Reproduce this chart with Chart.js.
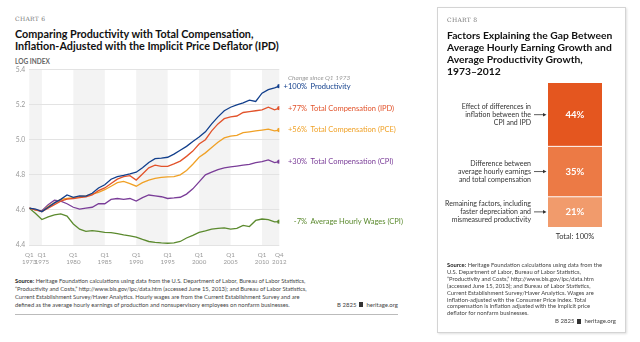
<!DOCTYPE html>
<html>
<head>
<meta charset="utf-8">
<script src="https://cdn.jsdelivr.net/npm/chart.js@4.4.1/dist/chart.umd.min.js"></script>
<style>
  body { margin: 0; width: 640px; height: 342px; background: #fff; position: relative; overflow: hidden; font-family: Lato, "Open Sans", sans-serif; color: #222; }
  .t { position: absolute; white-space: nowrap; }
  .kicker { font-family: "DejaVu Serif", serif; font-size: 6px; color: #777; letter-spacing: 0.3px; line-height: 8px; }
  .title { font-weight: 700; color: #111; }
  .src { font-size: 5.8px; color: #444; }
  .src b { color: #222; }
  .brand { font-size: 6px; color: #444; line-height: 8px; }
  .brand i { display: inline-block; width: 4px; height: 5px; background: #333; margin: 0 3px; vertical-align: -0.5px; }
  #card { position: absolute; left: 437px; top: 7px; width: 187px; height: 324px; border: 1px solid #d4d4d4; box-shadow: 1px 1px 2px rgba(0,0,0,0.12); }
  canvas { position: absolute; }
</style>
</head>
<body>

<div class="t kicker" style="left:15px;top:15px">CHART 6</div>
<div class="t title" style="left:15px;top:28px;font-size:10.8px;line-height:11.5px">Comparing Productivity with Total Compensation,<br>Inflation-Adjusted with the Implicit Price Deflator (IPD)</div>
<div class="t" style="left:15px;top:57.5px;font-size:6.5px;line-height:7px;font-weight:700;color:#666">LOG INDEX</div>

<canvas id="lines" width="440" height="215" style="left:0;top:60px"></canvas>

<div class="t src" style="left:15px;top:276.5px;line-height:8px"><b>Source:</b> Heritage Foundation calculations using data from the U.S. Department of Labor, Bureau of Labor Statistics,<br>“Productivity and Costs,” http://www.bls.gov/lpc/data.htm (accessed June 15, 2013); and Bureau of Labor Statistics,<br>Current Establishment Survey/Haver Analytics. Hourly wages are from the Current Establishment Survey and are<br>defined as the average hourly earnings of production and nonsupervisory employees on nonfarm businesses.</div>
<div class="t brand" style="right:242px;top:300.5px">B 2825<i></i>heritage.org</div>
<div style="position:absolute;left:15px;top:314px;width:383px;height:1px;background:#bbb"></div>

<div id="card"></div>
<div class="t kicker" style="left:447px;top:16px">CHART 8</div>
<div class="t title" style="left:447px;top:29px;font-size:10.3px;line-height:12px">Factors Explaining the Gap Between<br>Average Hourly Earning Growth and<br>Average Productivity Growth,<br>1973–2012</div>

<canvas id="gap" width="190" height="165" style="left:440px;top:78px"></canvas>

<div class="t src" style="left:447px;top:262px;line-height:6.9px"><b>Source:</b> Heritage Foundation calculations using data from the<br>U.S. Department of Labor, Bureau of Labor Statistics,<br>“Productivity and Costs,” http://www.bls.gov/lpc/data.htm<br>(accessed June 15, 2013); and Bureau of Labor Statistics,<br>Current Establishment Survey/Haver Analytics. Wages are<br>inflation-adjusted with the Consumer Price Index. Total<br>compensation is inflation adjusted with the implicit price<br>deflator for nonfarm businesses.</div>
<div class="t brand" style="right:24px;top:317px">B 2825<i></i>heritage.org</div>

<script>
// quarters shown as fractional years: Q1 1973 ... Q4 2012
var years = [1973, 1974, 1975, 1976, 1977, 1978, 1979, 1980, 1981, 1982,
             1983, 1984, 1985, 1986, 1987, 1988, 1989, 1990, 1991, 1992,
             1993, 1994, 1995, 1996, 1997, 1998, 1999, 2000, 2001, 2002,
             2003, 2004, 2005, 2006, 2007, 2008, 2009, 2010, 2011, 2012, 2012.75];

var productivity = [4.61, 4.605, 4.59, 4.615, 4.64, 4.66, 4.685, 4.672, 4.68, 4.678,
                    4.695, 4.725, 4.743, 4.775, 4.79, 4.797, 4.805, 4.815, 4.84, 4.87,
                    4.892, 4.895, 4.90, 4.918, 4.94, 4.962, 4.99, 5.015, 5.045, 5.09,
                    5.13, 5.165, 5.185, 5.198, 5.21, 5.225, 5.218, 5.265, 5.285, 5.295, 5.305];
var compIPD = [4.61, 4.60, 4.59, 4.61, 4.63, 4.65, 4.662, 4.665, 4.67, 4.675,
               4.685, 4.71, 4.725, 4.75, 4.775, 4.79, 4.795, 4.77, 4.805, 4.84,
               4.855, 4.848, 4.848, 4.862, 4.878, 4.905, 4.935, 4.975, 5.0, 5.05,
               5.09, 5.12, 5.13, 5.135, 5.155, 5.16, 5.165, 5.17, 5.185, 5.17, 5.18];
var compPCE = [4.61, 4.60, 4.59, 4.62, 4.64, 4.66, 4.665, 4.67, 4.675, 4.68,
               4.69, 4.70, 4.715, 4.735, 4.755, 4.762, 4.75, 4.735, 4.755, 4.77,
               4.78, 4.785, 4.788, 4.79, 4.80, 4.825, 4.86, 4.90, 4.925, 4.955,
               4.985, 5.01, 5.02, 5.025, 5.04, 5.045, 5.05, 5.055, 5.06, 5.05, 5.055];
var compCPI = [4.61, 4.60, 4.595, 4.63, 4.655, 4.65, 4.635, 4.615, 4.605, 4.61,
               4.615, 4.635, 4.635, 4.66, 4.665, 4.66, 4.665, 4.65, 4.67, 4.685,
               4.68, 4.675, 4.665, 4.668, 4.672, 4.69, 4.72, 4.76, 4.80, 4.815,
               4.83, 4.84, 4.845, 4.85, 4.855, 4.86, 4.87, 4.875, 4.885, 4.87, 4.875];
var wagesCPI = [4.61, 4.58, 4.545, 4.56, 4.572, 4.577, 4.565, 4.52, 4.49, 4.478,
                4.482, 4.478, 4.472, 4.47, 4.465, 4.458, 4.452, 4.445, 4.432, 4.42,
                4.415, 4.412, 4.41, 4.412, 4.42, 4.44, 4.455, 4.472, 4.48, 4.49,
                4.495, 4.498, 4.49, 4.495, 4.512, 4.505, 4.54, 4.548, 4.545, 4.532, 4.533];

var seriesNames = ['Productivity', 'Total Compensation (IPD)', 'Total Compensation (PCE)',
                   'Total Compensation (CPI)', 'Average Hourly Wages (CPI)'];
var seriesChange = ['+100%', '+77%', '+56%', '+30%', '-7%'];
var seriesColors = ['#123f8c', '#e2532b', '#f0a126', '#7a3d98', '#5b8a2e'];

var yTicks = [4.4, 4.6, 4.8, 5.0, 5.2, 5.4];
var xTickYears = [1973, 1975, 1980, 1985, 1990, 1995, 2000, 2005, 2010, 2012.75];
var xTickLabels = [['Q1', '1973'], ['Q1', '1975'], ['Q1', '1980'], ['Q1', '1985'], ['Q1', '1990'],
                   ['Q1', '1995'], ['Q1', '2000'], ['Q1', '2005'], ['Q1', '2010'], ['Q4', '2012']];
var bandRanges = [[1973, 1975], [1980, 1985], [1990, 1995], [2000, 2005], [2010, 2012.75]];

// chart 8
var gapFactors = [['Effect of differences in', 'inflation between the', 'CPI and IPD'],
                  ['Difference between', 'average hourly earnings', 'and total compensation'],
                  ['Remaining factors, including', 'faster depreciation and', 'mismeasured productivity']];
var gapShares = [44, 35, 21];
var gapColors = ['#e4561f', '#ec7a45', '#f19b6c'];

var allSeries = [productivity, compIPD, compPCE, compCPI, wagesCPI];

// grey vertical bands behind the lines
var bands = {
    id: 'bands',
    beforeDraw: function(chart) {
        var ctx = chart.ctx, a = chart.chartArea, x = chart.scales.x;
        ctx.save();
        ctx.fillStyle = '#f3f3f3';
        bandRanges.forEach(function(r) {
            var x0 = x.getPixelForValue(r[0]), x1 = x.getPixelForValue(r[1]);
            ctx.fillRect(x0, a.top, x1 - x0, a.bottom - a.top);
        });
        ctx.restore();
    }
};

// labels at the end of each line
var endLabels = {
    id: 'endLabels',
    afterDraw: function(chart) {
        var ctx = chart.ctx, y = chart.scales.y;
        ctx.save();
        ctx.textBaseline = 'middle';
        ctx.font = 'italic 6.5px Lato';
        ctx.fillStyle = '#999';
        ctx.textAlign = 'left';
        ctx.fillText('Change since Q1 1973', 288, 17.5);
        ctx.font = '7.5px Lato';
        allSeries.forEach(function(s, i) {
            var py = y.getPixelForValue(s[s.length - 1]);
            ctx.fillStyle = seriesColors[i];
            ctx.textAlign = 'right';
            ctx.fillText(seriesChange[i], 307, py);
            ctx.textAlign = 'left';
            ctx.fillText(seriesNames[i], 310.5, py);
        });
        ctx.restore();
    }
};

var linesChart = new Chart(document.getElementById('lines'), {
    type: 'line',
    data: {
        datasets: allSeries.map(function(s, i) {
            return {
                label: seriesNames[i],
                data: years.map(function(yr, k) { return { x: yr, y: s[k] }; }),
                borderColor: seriesColors[i],
                backgroundColor: seriesColors[i],
                borderWidth: 1.3,
                tension: 0,
                pointRadius: function(c) { return c.dataIndex === years.length - 1 ? 2.2 : 0; },
                pointBorderWidth: 0
            };
        })
    },
    options: {
        responsive: false,
        animation: false,
        layout: { padding: { top: 9.5, right: 160.7, left: 0, bottom: 0 } },
        plugins: { legend: { display: false }, tooltip: { enabled: false } },
        scales: {
            x: {
                type: 'linear',
                min: 1973,
                max: 2012.75,
                afterBuildTicks: function(axis) { axis.ticks = xTickYears.map(function(v) { return { value: v }; }); },
                afterFit: function(axis) { axis.height = 30; },
                grid: { display: false, drawTicks: false },
                border: { display: false },
                ticks: {
                    autoSkip: false, maxRotation: 0, padding: 7,
                    color: '#999', font: { family: 'Lato', size: 6.2, lineHeight: 1.05 },
                    callback: function(v, i) { return xTickLabels[i]; }
                }
            },
            y: {
                min: 4.4,
                max: 5.4,
                afterBuildTicks: function(axis) { axis.ticks = yTicks.map(function(v) { return { value: v }; }); },
                afterFit: function(axis) { axis.width = 29.3; },
                grid: { color: '#e3e3e3', drawTicks: false },
                border: { display: false },
                ticks: {
                    padding: 4, color: '#999', font: { family: 'Lato', size: 6.8 },
                    callback: function(v) { return v.toFixed(1); }
                }
            }
        }
    },
    plugins: [bands, endLabels]
});

// percent, side labels with arrows and total for the stacked column
var gapLabels = {
    id: 'gapLabels',
    afterDraw: function(chart) {
        var ctx = chart.ctx, barBottom = 0, barX = 0;
        ctx.save();
        ctx.textBaseline = 'middle';
        chart.data.datasets.forEach(function(ds, i) {
            var bar = chart.getDatasetMeta(i).data[0];
            var top = Math.min(bar.y, bar.base), bottom = Math.max(bar.y, bar.base);
            var cy = (top + bottom) / 2, left = bar.x - bar.width / 2;
            barBottom = Math.max(barBottom, bottom);
            barX = bar.x;
            if (i > 0) { ctx.fillStyle = '#fff'; ctx.fillRect(left, top - 0.5, bar.width, 1); }
            ctx.fillStyle = '#fff';
            ctx.font = 'bold 9.5px Lato';
            ctx.textAlign = 'center';
            ctx.fillText(gapShares[i] + '%', bar.x, cy);
            ctx.fillStyle = '#333';
            ctx.font = '7px Lato';
            ctx.textAlign = 'right';
            var lines = gapFactors[i];
            lines.forEach(function(t, k) { ctx.fillText(t, left - 17, cy + (k - (lines.length - 1) / 2) * 7.8); });
            ctx.strokeStyle = '#333';
            ctx.lineWidth = 0.8;
            ctx.beginPath(); ctx.moveTo(left - 14, cy); ctx.lineTo(left - 3, cy); ctx.stroke();
            ctx.beginPath(); ctx.moveTo(left - 1.5, cy); ctx.lineTo(left - 5, cy - 1.8); ctx.lineTo(left - 5, cy + 1.8); ctx.closePath();
            ctx.fill();
        });
        var total = gapShares.reduce(function(a, b) { return a + b; }, 0);
        ctx.fillStyle = '#333';
        ctx.font = '7.5px Lato';
        ctx.textAlign = 'center';
        ctx.fillText('Total: ' + total + '%', barX, barBottom + 10);
        ctx.restore();
    }
};

var gapChart = new Chart(document.getElementById('gap'), {
    type: 'bar',
    data: {
        labels: ['1973–2012'],
        datasets: gapShares.map(function(v, i) {
            return { label: gapFactors[i].join(' '), data: [v], backgroundColor: gapColors[i],
                     borderWidth: 0, barPercentage: 1, categoryPercentage: 1 };
        })
    },
    options: {
        responsive: false,
        animation: false,
        layout: { padding: { left: 108, right: 28, top: 5, bottom: 16 } },
        plugins: { legend: { display: false }, tooltip: { enabled: false } },
        scales: {
            x: { stacked: true, display: false },
            y: { stacked: true, display: false, reverse: true, min: 0, max: 100 }
        }
    },
    plugins: [gapLabels]
});
</script>
</body>
</html>
